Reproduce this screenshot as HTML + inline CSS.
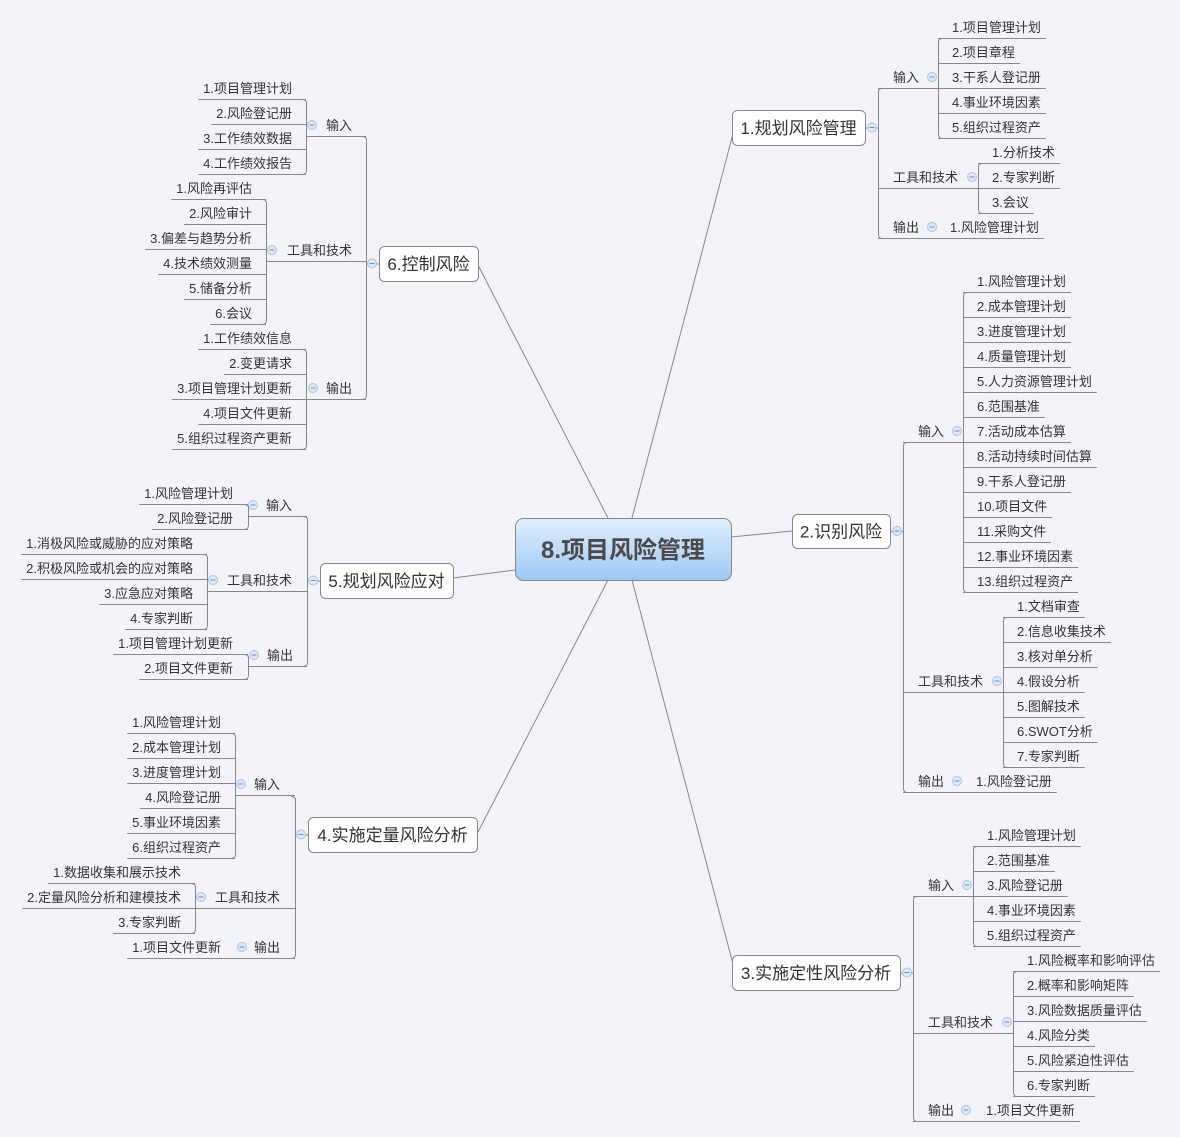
<!DOCTYPE html>
<html><head><meta charset="utf-8"><style>
html,body{margin:0;padding:0;background:#f3f4fa;}
svg{display:block;font-family:"Liberation Sans","Noto Sans CJK SC",sans-serif;}
</style></head><body>
<svg id="s" width="1180" height="1137" xmlns="http://www.w3.org/2000/svg">
<defs><linearGradient id="g" x1="0" y1="0" x2="0" y2="1"><stop offset="0" stop-color="#e0eefd"/><stop offset="1" stop-color="#9ec9f5"/></linearGradient></defs>
<g stroke="#888" stroke-width="1" fill="none">
<line x1="632" y1="518" x2="734" y2="130"/>
<line x1="731" y1="537" x2="792" y2="531"/>
<line x1="632" y1="580" x2="734" y2="968"/>
<line x1="608" y1="518" x2="478" y2="265"/>
<line x1="515" y1="570" x2="453" y2="578"/>
<line x1="608" y1="580" x2="478" y2="832"/>
</g>
<rect x="515.5" y="518.5" width="216" height="62" rx="8" fill="url(#g)" stroke="#888"/>
<text x="623" y="558" text-anchor="middle" font-size="24" font-weight="bold" fill="#4a4a4a">8.项目风险管理</text>
<g id="L"></g>
</svg>
<script>
var NS="http://www.w3.org/2000/svg",G=document.getElementById('L');
function el(n,a,t){var e=document.createElementNS(NS,n);for(var k in a)e.setAttribute(k,a[k]);if(t!==undefined)e.textContent=t;G.appendChild(e);return e;}
function line(x1,y1,x2,y2){el('line',{x1:x1,y1:y1+0.5,x2:x2,y2:y2+0.5,stroke:'#888','stroke-width':1});}
function vline(x,y1,y2){el('line',{x1:x+0.5,y1:y1,x2:x+0.5,y2:y2,stroke:'#888','stroke-width':1});}
function txt(s,x,cy,anchor,size){var t=el('text',{x:x,y:cy+(size||13)*0.38,'font-size':size||13,fill:'#333','text-anchor':anchor||'start'},s);return t.getComputedTextLength();}
function circ(cx,cy){el('circle',{cx:cx,cy:cy,r:4.5,fill:'#dde9f8',stroke:'#a9c3e4','stroke-width':1});el('line',{x1:cx-2.5,y1:cy,x2:cx+2.5,y2:cy,stroke:'#6b8fc4','stroke-width':1});}
function bracket(bx,y1,y2,dir){var r=4,d=dir==='R'?r:-r;el('path',{d:'M'+(bx+d)+' '+(y1+0.5)+' Q'+(bx+0.5)+' '+(y1+0.5)+' '+(bx+0.5)+' '+(y1+r)+' L'+(bx+0.5)+' '+(y2-r)+' Q'+(bx+0.5)+' '+(y2+0.5)+' '+(bx+d)+' '+(y2+0.5),stroke:'#888',fill:'none'});}
function node(x1,y1,x2,y2,s,ccx,bx,dir){el('rect',{x:x1+0.5,y:y1+0.5,width:x2-x1,height:y2-y1,rx:5,fill:'#fff',stroke:'#888'});var cy=(y1+y2)/2;txt(s,(x1+x2)/2,cy,'middle',17);
 if(dir==='R')line(x2,cy,bx,cy);else line(bx,cy,x1,cy);circ(ccx,cy);}
function branchR(bx,top,bot,cats){bracket(bx,top,bot,'R');cats.forEach(function(c){txt(c.t,c.tx,c.cy);circ(c.ccx,c.cy);
 if(c.leaves.length===1){var w=txt(c.leaves[0],c.ltx,c.cy);line(bx,c.cy+11,c.ltx+w+5,c.cy+11);}
 else{line(bx,c.cy+11,c.lbx,c.cy+11);var n=c.leaves.length;bracket(c.lbx,c.lcy0+11,c.lcy0+11+(n-1)*25,'R');
  c.leaves.forEach(function(s,i){var cy=c.lcy0+i*25;var w=txt(s,c.ltx,cy);line(c.lbx,cy+11,c.ltx+w+5,cy+11);});}});}
function branchL(bx,top,bot,cats){bracket(bx,top,bot,'L');cats.forEach(function(c){txt(c.t,c.txr,c.cy,'end');circ(c.ccx,c.cy);
 if(c.leaves.length===1){var w=txt(c.leaves[0],c.ltxr,c.cy,'end');line(c.ltxr-w-5,c.cy+11,bx,c.cy+11);}
 else{line(c.lbx,c.cy+11,bx,c.cy+11);var n=c.leaves.length;bracket(c.lbx,c.lcy0+11,c.lcy0+11+(n-1)*25,'L');
  c.leaves.forEach(function(s,i){var cy=c.lcy0+i*25;var w=txt(s,c.ltxr,cy,'end');line(c.ltxr-w-5,cy+11,c.lbx,cy+11);});}});}

node(732,110,865,145,'1.规划风险管理',872,878,'R');
branchR(878,88,238,[
 {t:'输入',tx:893,cy:77,ccx:932,lbx:938,ltx:952,lcy0:27,leaves:['1.项目管理计划','2.项目章程','3.干系人登记册','4.事业环境因素','5.组织过程资产']},
 {t:'工具和技术',tx:893,cy:177,ccx:972,lbx:978,ltx:992,lcy0:152,leaves:['1.分析技术','2.专家判断','3.会议']},
 {t:'输出',tx:893,cy:227,ccx:932,ltx:950,leaves:['1.风险管理计划']}]);
node(792,514,890,548,'2.识别风险',897,903,'R');
branchR(903,442,792,[
 {t:'输入',tx:918,cy:431,ccx:957,lbx:963,ltx:977,lcy0:281,leaves:['1.风险管理计划','2.成本管理计划','3.进度管理计划','4.质量管理计划','5.人力资源管理计划','6.范围基准','7.活动成本估算','8.活动持续时间估算','9.干系人登记册','10.项目文件','11.采购文件','12.事业环境因素','13.组织过程资产']},
 {t:'工具和技术',tx:918,cy:681,ccx:997,lbx:1003,ltx:1017,lcy0:606,leaves:['1.文档审查','2.信息收集技术','3.核对单分析','4.假设分析','5.图解技术','6.SWOT分析','7.专家判断']},
 {t:'输出',tx:918,cy:781,ccx:957,ltx:976,leaves:['1.风险登记册']}]);
node(732,955,900,990,'3.实施定性风险分析',907,913,'R');
branchR(913,896,1121,[
 {t:'输入',tx:928,cy:885,ccx:967,lbx:973,ltx:987,lcy0:835,leaves:['1.风险管理计划','2.范围基准','3.风险登记册','4.事业环境因素','5.组织过程资产']},
 {t:'工具和技术',tx:928,cy:1022,ccx:1007,lbx:1013,ltx:1027,lcy0:960,leaves:['1.风险概率和影响评估','2.概率和影响矩阵','3.风险数据质量评估','4.风险分类','5.风险紧迫性评估','6.专家判断']},
 {t:'输出',tx:928,cy:1110,ccx:966,ltx:986,leaves:['1.项目文件更新']}]);
node(379,246,478,281,'6.控制风险',372,366,'L');
branchL(366,136,399,[
 {t:'输入',txr:352,cy:125,ccx:312,lbx:306,ltxr:292,lcy0:88,leaves:['1.项目管理计划','2.风险登记册','3.工作绩效数据','4.工作绩效报告']},
 {t:'工具和技术',txr:352,cy:250,ccx:272,lbx:266,ltxr:252,lcy0:188,leaves:['1.风险再评估','2.风险审计','3.偏差与趋势分析','4.技术绩效测量','5.储备分析','6.会议']},
 {t:'输出',txr:352,cy:388,ccx:313,lbx:306,ltxr:292,lcy0:338,leaves:['1.工作绩效信息','2.变更请求','3.项目管理计划更新','4.项目文件更新','5.组织过程资产更新']}]);
node(320,563,453,598,'5.规划风险应对',313,307,'L');
branchL(307,516,666,[
 {t:'输入',txr:292,cy:505,ccx:253,lbx:248,ltxr:233,lcy0:493,leaves:['1.风险管理计划','2.风险登记册']},
 {t:'工具和技术',txr:292,cy:580,ccx:213,lbx:207,ltxr:193,lcy0:543,leaves:['1.消极风险或威胁的应对策略','2.积极风险或机会的应对策略','3.应急应对策略','4.专家判断']},
 {t:'输出',txr:293,cy:655,ccx:254,lbx:248,ltxr:233,lcy0:643,leaves:['1.项目管理计划更新','2.项目文件更新']}]);
node(308,817,477,852,'4.实施定量风险分析',301,295,'L');
branchL(295,796,958,[
 {t:'输入',txr:280,cy:784,ccx:241,lbx:235,ltxr:221,lcy0:722,leaves:['1.风险管理计划','2.成本管理计划','3.进度管理计划','4.风险登记册','5.事业环境因素','6.组织过程资产']},
 {t:'工具和技术',txr:280,cy:897,ccx:201,lbx:195,ltxr:181,lcy0:872,leaves:['1.数据收集和展示技术','2.定量风险分析和建模技术','3.专家判断']},
 {t:'输出',txr:280,cy:947,ccx:242,ltxr:221,leaves:['1.项目文件更新']}]);
</script>
</body></html>
